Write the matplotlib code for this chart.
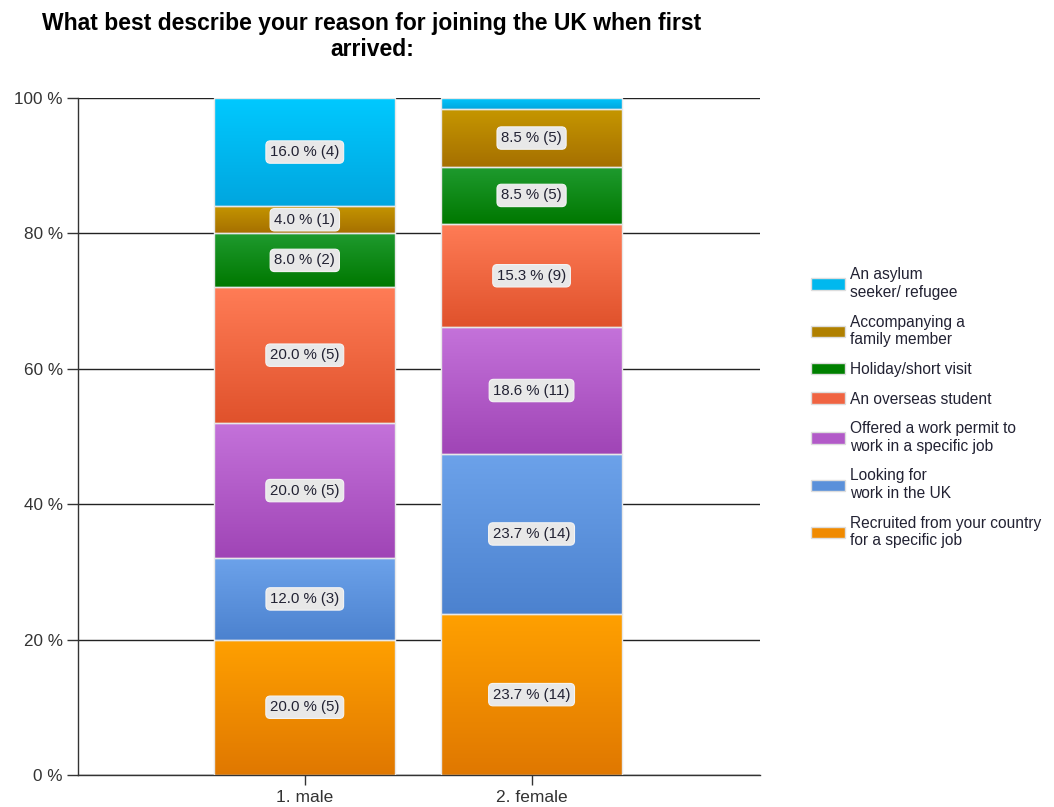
import numpy as np
import matplotlib
matplotlib.use("Agg")
import matplotlib.pyplot as plt
from matplotlib.colors import LinearSegmentedColormap
from matplotlib.patches import Patch

plt.rcParams['font.family'] = ['Liberation Sans', 'DejaVu Sans']

groups = ["1. male", "2. female"]
reasons = [
    "Recruited from your country\nfor a specific job",
    "Looking for\nwork in the UK",
    "Offered a work permit to\nwork in a specific job",
    "An overseas student",
    "Holiday/short visit",
    "Accompanying a\nfamily member",
    "An asylum\nseeker/ refugee",
]
male_counts = [5, 3, 5, 5, 2, 1, 4]
female_counts = [14, 14, 11, 9, 5, 5, 1]

# gradient (top, bottom) and flat legend colours
grad_top = ["#ffa000", "#6ca2ea", "#c472da", "#ff7c56", "#1f9b2f", "#c59600", "#00c9ff"]
grad_bot = ["#e07800", "#4c82cf", "#a045b6", "#e0522c", "#007800", "#a67000", "#00a6df"]
legend_colors = ["#f08a00", "#5a90da", "#b25ac8", "#f06442", "#008000", "#b08000", "#00b8ee"]

fig = plt.figure(figsize=(10.54, 8.07), dpi=100)
ax = fig.add_axes([0.074, 0.0397, 0.647, 0.839])

x = np.arange(len(groups))
width = 0.8
counts = np.array([male_counts, female_counts], dtype=float)
pcts = counts / counts.sum(axis=1, keepdims=True) * 100

bottoms = np.zeros(len(groups))
for i in range(len(reasons)):
    bars = ax.bar(x, pcts[:, i], width, bottom=bottoms, color='none',
                  edgecolor='#e8e8e8', linewidth=1.0, zorder=3)
    cmap = LinearSegmentedColormap.from_list("g%d" % i, [grad_bot[i], grad_top[i]])
    grad = np.linspace(0, 1, 64).reshape(-1, 1)
    for j, bar in enumerate(bars):
        x0, y0 = bar.get_x(), bar.get_y()
        w, h = bar.get_width(), bar.get_height()
        im = ax.imshow(grad, cmap=cmap, origin='lower', aspect='auto',
                       extent=(x0, x0 + w, y0, y0 + h), zorder=2)
        im.set_clip_path(bar)
        if pcts[j, i] >= 3:
            ax.text(x0 + w / 2, y0 + h / 2,
                    "%.1f %% (%d)" % (pcts[j, i], counts[j, i]),
                    ha='center', va='center', fontsize=10.8, color='#222233',
                    zorder=5,
                    bbox=dict(boxstyle='round,pad=0.28,rounding_size=0.3',
                              fc='#e8e8e8', ec='#f4f4f4', lw=0.8))
    bottoms += pcts[:, i]

ax.set_xlim(-1.0, 2.007)
ax.set_ylim(0, 100)
ax.set_yticks(range(0, 101, 20))
ax.set_yticklabels(["%d %%" % v for v in range(0, 101, 20)], fontsize=12.3, color='#333333')
ax.set_xticks(x)
ax.set_xticklabels(groups, fontsize=12.5, color='#333333')
ax.yaxis.grid(True, color='#222222', linewidth=1.0, zorder=0)
ax.set_axisbelow(True)
ax.tick_params(axis='y', length=8, width=1, color='#333333', pad=3)
ax.tick_params(axis='x', length=7, width=1, color='#333333', pad=4)
for s in ['top', 'right']:
    ax.spines[s].set_visible(False)
for s in ['left', 'bottom']:
    ax.spines[s].set_color('#333333')
    ax.spines[s].set_linewidth(1.0)

fig.text(0.353, 0.985, "What best describe your reason for joining the UK when first\narrived:",
         ha='center', va='top', fontsize=16.5, fontweight='bold', linespacing=1.15)

handles = [Patch(facecolor=legend_colors[i], edgecolor='#dddddd', label=reasons[i])
           for i in range(len(reasons))][::-1]
fig.legend(handles=handles, loc='upper left', bbox_to_anchor=(0.756, 0.686),
           frameon=False, fontsize=11.2, handlelength=2.2, handleheight=0.75,
           handletextpad=0.3, labelspacing=0.95, labelcolor='#222233')

fig.savefig("out.png", dpi=100)
